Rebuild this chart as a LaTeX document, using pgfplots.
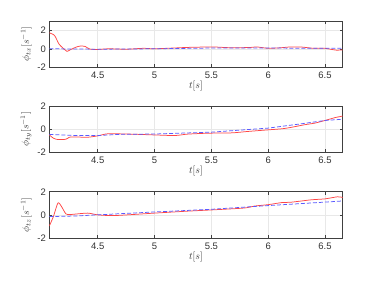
\documentclass[border=0pt]{standalone}
\usepackage{pgfplots}
\pgfplotsset{compat=1.18}
\usepackage{fontspec}
\setmainfont{Liberation Sans}
\definecolor{rl}{RGB}{255,70,70}
\definecolor{bl}{RGB}{90,90,255}
\pgfplotsset{
  myax/.style={
    scale only axis, width=293.4bp, height=46.3bp,
    xmin=4.074, xmax=6.656,
    xtick={4.5,5,5.5,6,6.5},
    ytick={-2,0,2}, ymin=-2,
    grid=major, major grid style={gray!18, line width=0.5pt},
    axis line style={black!75, line width=0.5pt},
    tick style={black!75, line width=0.5pt},
    tick align=inside, major tick length=3bp,
    xtick pos=both, ytick pos=both,
    tick label style={font=\fontsize{9.5}{10}\selectfont, text=black!80},
    /pgf/number format/assume math mode=true,
    xticklabel style={yshift=-1bp},
    xlabel={$t[s]$},
    label style={font=\fontsize{10}{11}\selectfont, text=black!80},
    xlabel style={yshift=4bp},
    ylabel style={yshift=-1bp},
  },
  redl/.style={rl, line width=0.75pt, smooth, tension=0.4},
  bluel/.style={bl, line width=0.75pt, dash pattern=on 4bp off 2bp},
}
\begin{document}
\begin{tikzpicture}
\path[use as bounding box] (0,0) rectangle (379bp,-285bp);
\begin{axis}[myax, at={(49.3bp,-21bp)}, anchor=north west, ymax=3,
  ylabel={$\phi_{tx}[s^{-1}]$}]
\addplot[redl] coordinates {
(4.074,1.72)(4.12,1.44)(4.16,0.5)(4.21,-0.1)(4.23,-0.28)(4.26,-0.1)(4.31,0.18)(4.35,0.3)(4.39,0.25)(4.43,-0.03)(4.5,-0.07)(4.6,0.0)(4.75,-0.05)(4.9,0.05)(5.0,0.0)(5.2,0.1)(5.3,0.15)(5.5,0.2)(5.6,0.15)(5.7,0.1)(5.85,0.15)(5.9,0.2)(6.0,0.05)(6.1,0.1)(6.2,0.2)(6.3,0.18)(6.4,0.05)(6.5,0.05)(6.55,-0.05)(6.6,-0.15)(6.656,-0.12)};
\addplot[bluel] coordinates {
(4.074,0.0)(4.3,-0.02)(4.5,-0.05)(5.0,0.0)(5.5,0.08)(6.0,0.08)(6.5,0.05)(6.656,0.05)};
\end{axis}
\begin{axis}[myax, at={(49.3bp,-106bp)}, anchor=north west, ymax=2,
  ylabel={$\phi_{ty}[s^{-1}]$}]
\addplot[redl] coordinates {
(4.074,-0.5)(4.11,-0.78)(4.15,-0.9)(4.22,-0.87)(4.25,-0.7)(4.29,-0.67)(4.41,-0.7)(4.5,-0.58)(4.59,-0.4)(4.79,-0.43)(5.0,-0.5)(5.18,-0.55)(5.29,-0.43)(5.47,-0.35)(5.68,-0.32)(5.82,-0.2)(6.0,-0.06)(6.12,0.03)(6.2,0.15)(6.32,0.38)(6.41,0.52)(6.5,0.75)(6.59,1.0)(6.656,1.13)};
\addplot[bluel] coordinates {
(4.074,-0.45)(4.3,-0.55)(4.5,-0.55)(4.7,-0.45)(5.0,-0.42)(5.5,-0.26)(6.0,0.09)(6.29,0.46)(6.5,0.75)(6.6,0.82)(6.656,0.84)};
\end{axis}
\begin{axis}[myax, at={(49.3bp,-191.7bp)}, anchor=north west, ymax=2,
  ylabel={$\phi_{tz}[s^{-1}]$}]
\addplot[redl] coordinates {
(4.074,-0.97)(4.11,-0.15)(4.15,1.03)(4.18,0.74)(4.22,0.09)(4.26,0.03)(4.41,0.15)(4.5,0.0)(4.65,-0.06)(5.0,0.15)(5.29,0.32)(5.53,0.44)(5.79,0.59)(5.88,0.76)(6.0,0.88)(6.12,1.06)(6.2,1.09)(6.38,1.3)(6.5,1.38)(6.61,1.56)(6.656,1.5)};
\addplot[bluel] coordinates {
(4.074,-0.15)(4.3,-0.1)(4.5,0.0)(5.0,0.25)(5.5,0.48)(6.0,0.8)(6.5,1.1)(6.656,1.2)};
\end{axis}
\end{tikzpicture}
\end{document}
